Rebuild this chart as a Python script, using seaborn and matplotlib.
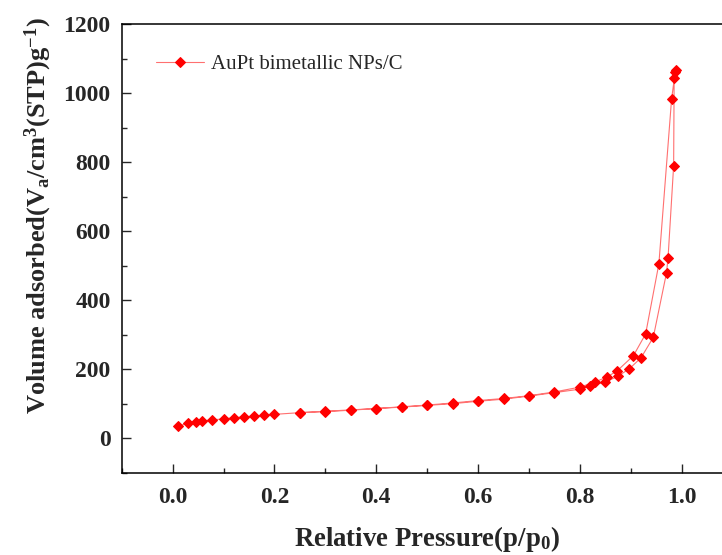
import matplotlib
matplotlib.use("Agg")
import matplotlib.pyplot as plt
import seaborn as sns
import pandas as pd
from matplotlib.ticker import MultipleLocator

# Adsorption branch
ads_p = [0.010, 0.031, 0.046, 0.058, 0.078, 0.100, 0.120, 0.140, 0.160, 0.180, 0.200,
         0.250, 0.300, 0.350, 0.400, 0.450, 0.500, 0.550, 0.600, 0.650, 0.700, 0.750,
         0.800, 0.820, 0.850, 0.874, 0.897, 0.920, 0.944, 0.970, 0.973, 0.984, 0.985, 0.989]
ads_v = [35, 43, 47, 50, 53, 56, 59, 62, 64, 66, 69,
         74, 77, 81, 86, 90, 95, 100, 107, 113, 122, 132,
         142, 152, 163, 179, 201, 233, 292, 479, 522, 789, 1043, 1067]
# Desorption branch
des_p = [0.987, 0.980, 0.955, 0.929, 0.905, 0.873, 0.854, 0.830, 0.800,
         0.750, 0.700, 0.650, 0.600, 0.550, 0.500, 0.450, 0.400, 0.350, 0.300, 0.250]
des_v = [1060, 983, 505, 302, 239, 195, 178, 163, 148,
         134, 123, 115, 109, 102, 96, 91, 86, 82, 78, 74]

label = "AuPt bimetallic NPs/C"
x_ticks = [0.0, 0.2, 0.4, 0.6, 0.8, 1.0]
y_ticks = [0, 200, 400, 600, 800, 1000, 1200]

df = pd.DataFrame({
    "p": ads_p + des_p,
    "v": ads_v + des_v,
    "sample": [label] * (len(ads_p) + len(des_p)),
})

sns.set_style("ticks")
plt.rcParams['font.family'] = ['Liberation Serif', 'DejaVu Serif']
plt.rcParams['mathtext.fontset'] = 'custom'
plt.rcParams['mathtext.rm'] = 'Liberation Serif:bold'
plt.rcParams['mathtext.bf'] = 'Liberation Serif:bold'
plt.rcParams['mathtext.it'] = 'Liberation Serif:bold'

fig = plt.figure(figsize=(7.22, 5.55), dpi=100)
ax = fig.add_axes([121.7 / 722, (555 - 472.7) / 555, (732.7 - 121.7) / 722, (472.7 - 24) / 555])

sns.lineplot(data=df, x="p", y="v", hue="sample", palette=["#ff7070"], sort=False,
             estimator=None, marker="D", markersize=5.5, markerfacecolor="red",
             markeredgecolor="red", linewidth=0.8, ax=ax)

ax.set_xlim(-0.1, 1.1)
ax.set_ylim(-100, 1200)
ax.set_xticks(x_ticks)
ax.set_yticks(y_ticks)
ax.set_xticklabels([f"{t:.1f}" for t in x_ticks])
ax.set_yticklabels([str(t) for t in y_ticks])
ax.xaxis.set_minor_locator(MultipleLocator(0.1))
ax.yaxis.set_minor_locator(MultipleLocator(100))
ax.tick_params(which="major", direction="in", length=6.5, width=1.0, labelsize=17)
ax.tick_params(which="minor", direction="in", length=3.5, width=1.0)
ax.tick_params(axis="x", which="major", pad=10)
ax.tick_params(axis="y", which="major", pad=8)
for lab in ax.get_xticklabels() + ax.get_yticklabels():
    lab.set_fontweight("bold")
for s in ax.spines.values():
    s.set_linewidth(1.1)
    s.set_color("black")

ax.set_xlabel(r"Relative Pressure(p/p$_\mathregular{0}$)", fontsize=19.3, fontweight="bold",
              labelpad=12)
ax.set_ylabel(r"Volume adsorbed(V$_\mathregular{a}$/cm$^\mathregular{3}$(STP)g$^\mathregular{-1}$)",
              fontsize=19, fontweight="bold")
ax.yaxis.set_label_coords(-0.11, 0.574)

leg = ax.legend(loc="upper left", frameon=False, fontsize=15, handlelength=2.3,
                handletextpad=0.35, bbox_to_anchor=(0.042, 0.95), borderaxespad=0)

fig.savefig("out.png", dpi=100)
